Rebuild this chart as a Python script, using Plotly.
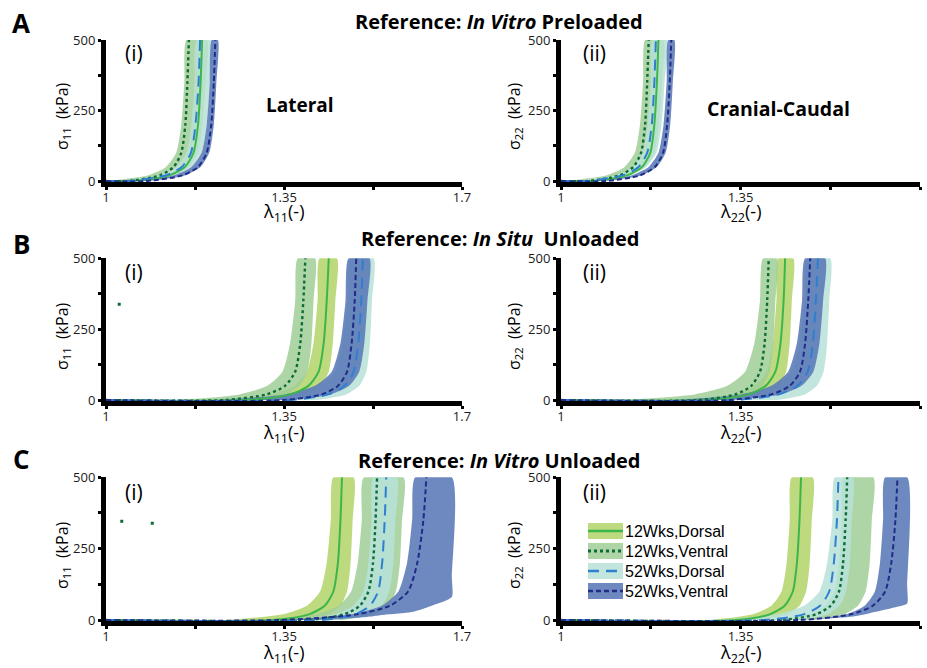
import plotly.graph_objects as go

W, H = 927, 668

# ---------------- data (lambda values read at these stress levels, kPa) ----------------
stress_levels = [0, 20, 50, 100, 200, 350, 500]

series_names = ["12Wks,Dorsal", "12Wks,Ventral", "52Wks,Dorsal", "52Wks,Ventral"]

# Panel A(i)  In Vitro Preloaded, lateral
a1_12d_mid = [1.053, 1.124, 1.155, 1.172, 1.181, 1.186, 1.189]
a1_12d_lo = [1.042, 1.113, 1.144, 1.161, 1.170, 1.175, 1.178]
a1_12d_hi = [1.055, 1.131, 1.163, 1.181, 1.190, 1.196, 1.199]
a1_12v_mid = [1.043, 1.106, 1.133, 1.148, 1.156, 1.160, 1.163]
a1_12v_lo = [1.000, 1.082, 1.118, 1.138, 1.148, 1.154, 1.158]
a1_12v_hi = [1.024, 1.108, 1.144, 1.164, 1.174, 1.180, 1.184]
a1_52d_mid = [1.041, 1.117, 1.149, 1.167, 1.176, 1.182, 1.185]
a1_52d_lo = [1.018, 1.102, 1.138, 1.158, 1.168, 1.174, 1.178]
a1_52d_hi = [1.048, 1.132, 1.168, 1.188, 1.198, 1.204, 1.208]
a1_52v_mid = [1.079, 1.150, 1.181, 1.198, 1.207, 1.212, 1.215]
a1_52v_lo = [1.048, 1.132, 1.168, 1.188, 1.198, 1.204, 1.208]
a1_52v_hi = [1.084, 1.155, 1.186, 1.203, 1.212, 1.217, 1.220]

# Panel A(ii)  In Vitro Preloaded, cranial-caudal
a2_12d_mid = [1.062, 1.129, 1.158, 1.174, 1.182, 1.187, 1.190]
a2_12d_lo = [1.044, 1.115, 1.146, 1.163, 1.172, 1.177, 1.180]
a2_12d_hi = [1.056, 1.132, 1.164, 1.182, 1.191, 1.197, 1.200]
a2_12v_mid = [1.051, 1.114, 1.141, 1.156, 1.164, 1.168, 1.171]
a2_12v_lo = [1.004, 1.088, 1.124, 1.144, 1.154, 1.160, 1.164]
a2_12v_hi = [1.024, 1.108, 1.144, 1.164, 1.174, 1.180, 1.184]
a2_52d_mid = [1.049, 1.120, 1.151, 1.168, 1.177, 1.182, 1.185]
a2_52d_lo = [1.026, 1.106, 1.140, 1.159, 1.169, 1.175, 1.178]
a2_52d_hi = [1.046, 1.130, 1.166, 1.186, 1.196, 1.202, 1.206]
a2_52v_mid = [1.087, 1.154, 1.183, 1.199, 1.207, 1.212, 1.215]
a2_52v_lo = [1.057, 1.137, 1.171, 1.190, 1.200, 1.206, 1.209]
a2_52v_hi = [1.085, 1.156, 1.187, 1.204, 1.213, 1.218, 1.221]

# Panel B(i)  In Situ Unloaded, lateral
b1_12d_mid = [1.278, 1.362, 1.398, 1.418, 1.428, 1.434, 1.438]
b1_12d_lo = [1.220, 1.325, 1.370, 1.395, 1.408, 1.416, 1.420]
b1_12d_hi = [1.326, 1.393, 1.422, 1.438, 1.446, 1.451, 1.454]
b1_12v_mid = [1.232, 1.316, 1.352, 1.372, 1.382, 1.388, 1.392]
b1_12v_lo = [1.137, 1.263, 1.317, 1.347, 1.362, 1.372, 1.377]
b1_12v_hi = [1.291, 1.354, 1.381, 1.396, 1.404, 1.408, 1.411]
b1_52d_mid = [1.361, 1.437, 1.469, 1.487, 1.496, 1.502, 1.505]
b1_52d_lo = [1.240, 1.366, 1.420, 1.450, 1.465, 1.475, 1.480]
b1_52d_hi = [1.414, 1.473, 1.498, 1.512, 1.519, 1.523, 1.526]
b1_52v_mid = [1.348, 1.424, 1.456, 1.474, 1.483, 1.489, 1.492]
b1_52v_lo = [1.213, 1.352, 1.411, 1.444, 1.461, 1.471, 1.477]
b1_52v_hi = [1.358, 1.442, 1.478, 1.498, 1.508, 1.514, 1.518]

# Panel B(ii)  In Situ Unloaded, cranial-caudal
b2_12d_mid = [1.285, 1.365, 1.399, 1.418, 1.428, 1.434, 1.437]
b2_12d_lo = [1.240, 1.337, 1.378, 1.401, 1.413, 1.420, 1.424]
b2_12d_hi = [1.341, 1.400, 1.425, 1.439, 1.446, 1.450, 1.453]
b2_12v_mid = [1.269, 1.340, 1.371, 1.388, 1.397, 1.402, 1.405]
b2_12v_lo = [1.114, 1.261, 1.324, 1.359, 1.377, 1.388, 1.394]
b2_12v_hi = [1.309, 1.368, 1.393, 1.407, 1.414, 1.418, 1.421]
b2_52d_mid = [1.341, 1.425, 1.461, 1.481, 1.491, 1.497, 1.501]
b2_52d_lo = [1.240, 1.366, 1.420, 1.450, 1.465, 1.475, 1.480]
b2_52d_hi = [1.421, 1.476, 1.499, 1.512, 1.519, 1.523, 1.525]
b2_52v_mid = [1.326, 1.410, 1.446, 1.466, 1.476, 1.482, 1.486]
b2_52v_lo = [1.212, 1.351, 1.410, 1.443, 1.460, 1.470, 1.476]
b2_52v_hi = [1.331, 1.428, 1.469, 1.492, 1.504, 1.511, 1.515]

# Panel C(i)  In Vitro Unloaded, lateral
c1_12d_mid = [1.328, 1.399, 1.430, 1.447, 1.456, 1.461, 1.464]
c1_12d_lo = [1.239, 1.348, 1.395, 1.421, 1.434, 1.442, 1.447]
c1_12d_hi = [1.383, 1.438, 1.461, 1.474, 1.481, 1.485, 1.487]
c1_12v_mid = [1.397, 1.468, 1.499, 1.516, 1.525, 1.530, 1.533]
c1_12v_lo = [1.307, 1.412, 1.457, 1.482, 1.495, 1.503, 1.507]
c1_12v_hi = [1.465, 1.528, 1.555, 1.570, 1.578, 1.582, 1.585]
c1_52d_mid = [1.423, 1.490, 1.519, 1.535, 1.543, 1.548, 1.551]
c1_52d_lo = [1.366, 1.450, 1.486, 1.506, 1.516, 1.522, 1.526]
c1_52d_hi = [1.452, 1.515, 1.542, 1.557, 1.565, 1.569, 1.572]
c1_52v_mid = [1.342, 1.493, 1.558, 1.594, 1.612, 1.624, 1.630]
c1_52v_lo = [1.344, 1.483, 1.542, 1.575, 1.592, 1.602, 1.608]
c1_52v_hi = [1.380, 1.448, 1.513, 1.539, 1.604, 1.643, 1.680, 1.680, 1.680]
c1_52v_hi_stress = [0, 3, 11, 17, 29, 52, 81, 150, 500]

# Panel C(ii)  In Vitro Unloaded, cranial-caudal
c2_12d_mid = [1.340, 1.407, 1.436, 1.452, 1.460, 1.465, 1.468]
c2_12d_lo = [1.290, 1.374, 1.410, 1.430, 1.440, 1.446, 1.450]
c2_12d_hi = [1.387, 1.442, 1.465, 1.478, 1.485, 1.489, 1.491]
c2_12v_mid = [1.430, 1.497, 1.526, 1.542, 1.550, 1.555, 1.558]
c2_12v_lo = [1.407, 1.483, 1.515, 1.533, 1.542, 1.548, 1.551]
c2_12v_hi = [1.489, 1.552, 1.579, 1.594, 1.602, 1.606, 1.609]
c2_52d_mid = [1.397, 1.473, 1.505, 1.523, 1.532, 1.538, 1.541]
c2_52d_lo = [1.294, 1.420, 1.474, 1.504, 1.519, 1.529, 1.534]
c2_52d_hi = [1.465, 1.520, 1.543, 1.556, 1.563, 1.567, 1.569]
c2_52v_mid = [1.464, 1.565, 1.608, 1.632, 1.644, 1.652, 1.656]
c2_52v_lo = [1.472, 1.556, 1.592, 1.612, 1.622, 1.628, 1.632]
c2_52v_hi = [1.430, 1.505, 1.570, 1.629, 1.660, 1.675, 1.675, 1.675]
c2_52v_hi_stress = [0, 4, 12, 35, 48, 58, 120, 500]

# stray marks visible in the original figure
stray_b1_lam = [1.026]
stray_b1_sig = [338]
stray_c1_lam = [1.031, 1.091]
stray_c1_sig = [346, 339]

x_tick_vals = [1, 1.175, 1.35, 1.525, 1.7]
x_tick_text = ["1", "", "1.35", "", "1.7"]
y_tick_vals = [0, 125, 250, 375, 500]
y_tick_text = ["0", "", "250", "", "500"]

# ---------------- styles ----------------
line_colors = ["#3cb64a", "#0d6b36", "#2f7fd0", "#1f2c88"]
band_colors = ["rgba(178,212,104,0.85)", "rgba(160,206,150,0.85)",
               "rgba(183,226,216,0.85)", "rgba(90,121,182,0.88)"]
dashes = ["solid", "dot", "11px,7px", "5px,3px"]
line_widths = [2, 2.4, 2, 2]

panels = [
    ("x", "y", [(a1_12d_mid, a1_12d_lo, a1_12d_hi, stress_levels),
                (a1_12v_mid, a1_12v_lo, a1_12v_hi, stress_levels),
                (a1_52d_mid, a1_52d_lo, a1_52d_hi, stress_levels),
                (a1_52v_mid, a1_52v_lo, a1_52v_hi, stress_levels)], None),
    ("x2", "y2", [(a2_12d_mid, a2_12d_lo, a2_12d_hi, stress_levels),
                  (a2_12v_mid, a2_12v_lo, a2_12v_hi, stress_levels),
                  (a2_52d_mid, a2_52d_lo, a2_52d_hi, stress_levels),
                  (a2_52v_mid, a2_52v_lo, a2_52v_hi, stress_levels)], None),
    ("x3", "y3", [(b1_12d_mid, b1_12d_lo, b1_12d_hi, stress_levels),
                  (b1_12v_mid, b1_12v_lo, b1_12v_hi, stress_levels),
                  (b1_52d_mid, b1_52d_lo, b1_52d_hi, stress_levels),
                  (b1_52v_mid, b1_52v_lo, b1_52v_hi, stress_levels)],
     (stray_b1_lam, stray_b1_sig)),
    ("x4", "y4", [(b2_12d_mid, b2_12d_lo, b2_12d_hi, stress_levels),
                  (b2_12v_mid, b2_12v_lo, b2_12v_hi, stress_levels),
                  (b2_52d_mid, b2_52d_lo, b2_52d_hi, stress_levels),
                  (b2_52v_mid, b2_52v_lo, b2_52v_hi, stress_levels)], None),
    ("x5", "y5", [(c1_12d_mid, c1_12d_lo, c1_12d_hi, stress_levels),
                  (c1_12v_mid, c1_12v_lo, c1_12v_hi, stress_levels),
                  (c1_52d_mid, c1_52d_lo, c1_52d_hi, stress_levels),
                  (c1_52v_mid, c1_52v_lo, c1_52v_hi, c1_52v_hi_stress)],
     (stray_c1_lam, stray_c1_sig)),
    ("x6", "y6", [(c2_12d_mid, c2_12d_lo, c2_12d_hi, stress_levels),
                  (c2_12v_mid, c2_12v_lo, c2_12v_hi, stress_levels),
                  (c2_52d_mid, c2_52d_lo, c2_52d_hi, stress_levels),
                  (c2_52v_mid, c2_52v_lo, c2_52v_hi, c2_52v_hi_stress)], None),
]

fig = go.Figure()
for xa, ya, series, stray in panels:
    # bands first
    for k, (mid, lo, hi, hi_s) in enumerate(series):
        xs = list(lo) + list(hi)[::-1]
        ys = list(stress_levels) + list(hi_s)[::-1]
        fig.add_trace(go.Scatter(
            x=xs, y=ys, xaxis=xa, yaxis=ya, mode="lines", fill="toself",
            fillcolor=band_colors[k], line=dict(width=0, shape="spline", smoothing=0.6),
            hoverinfo="skip", showlegend=False))
    # mean curves
    for k, (mid, lo, hi, hi_s) in enumerate(series):
        fig.add_trace(go.Scatter(
            x=[1.0] + list(mid), y=[0] + list(stress_levels), xaxis=xa, yaxis=ya,
            mode="lines", name=series_names[k],
            line=dict(color=line_colors[k], width=line_widths[k], dash=dashes[k],
                      shape="spline", smoothing=0.7),
            showlegend=False))
    if stray is not None:
        fig.add_trace(go.Scatter(x=stray[0], y=stray[1], xaxis=xa, yaxis=ya, mode="markers",
                                 marker=dict(symbol="square", size=3, color="#0d6b36"),
                                 showlegend=False, hoverinfo="skip"))

def px_x(p):
    return p / W

def px_y(p):
    return 1 - p / H

x_domains = [[106 / W, 462 / W], [561 / W, 920 / W]]
y_domains = [[1 - 181.9 / H, 1 - 40 / H], [1 - 400.9 / H, 1 - 258.3 / H], [1 - 620.9 / H, 1 - 477.3 / H]]

tick_font = dict(family="Open Sans", size=13, color="#1a1a1a")
layout = dict(template="none", width=W, height=H, autosize=False,
              margin=dict(l=0, r=0, t=0, b=0, pad=0, autoexpand=False),
              paper_bgcolor="white", plot_bgcolor="white", showlegend=False)
for i in range(6):
    r, c = divmod(i, 2)
    sx = "" if i == 0 else str(i + 1)
    layout["xaxis" + sx] = dict(
        domain=x_domains[c], anchor="y" + sx, range=[1, 1.7], automargin=False,
        tickmode="array", tickvals=x_tick_vals, ticktext=x_tick_text,
        ticks="outside", ticklen=3, tickwidth=3, tickcolor="black", ticklabelstandoff=-4,
        showline=True, linewidth=5, linecolor="black", showgrid=False, zeroline=False,
        tickfont=tick_font, layer="below traces", fixedrange=True)
    layout["yaxis" + sx] = dict(
        domain=y_domains[r], anchor="x" + sx, range=[-3, 500], automargin=False,
        tickmode="array", tickvals=y_tick_vals, ticktext=y_tick_text,
        ticks="outside", ticklen=3, tickwidth=3, tickcolor="black",
        showline=True, linewidth=5, linecolor="black", showgrid=False, zeroline=False,
        tickfont=tick_font, layer="below traces", fixedrange=True)

annotations = []

def text(x, y, s, size, family="Open Sans", angle=0, xanchor="center", color="black"):
    annotations.append(dict(x=px_x(x), y=px_y(y), xref="paper", yref="paper", text=s,
                            showarrow=False, textangle=angle, xanchor=xanchor, yanchor="middle",
                            font=dict(family=family, size=size, color=color)))

# panel letters and titles
for lab, yy in (("A", 23), ("B", 244), ("C", 459)):
    text(21, yy, "<b>" + lab + "</b>", 26)
text(499, 22, "<b>Reference: <i>In Vitro</i> Preloaded</b>", 20)
text(500, 239, "<b>Reference: <i>In Situ</i>  Unloaded</b>", 20)
text(499, 460, "<b>Reference: <i>In Vitro</i> Unloaded</b>", 20)
# roman numerals
for yy in (53, 272, 492):
    text(134, yy, "(i)", 21)
    text(594, yy, "(ii)", 21)
text(300, 105, "<b>Lateral</b>", 19)
text(778, 108, "<b>Cranial-Caudal</b>", 19.5)
# axis titles
for yy in (116, 336, 555):
    text(62, yy, "σ<sub>11</sub>  (kPa)", 16, angle=-90)
    text(514, yy, "σ<sub>22</sub>  (kPa)", 16, angle=-90)
for yy in (213, 433, 653):
    text(283, yy, "λ<sub>11</sub>(-)", 18)
    text(740, yy, "λ<sub>22</sub>(-)", 18)

# legend (drawn in panel C(ii))
shapes = []
legend_rows = [531, 551, 571, 591]
for k, yy in enumerate(legend_rows):
    shapes.append(dict(type="rect", xref="paper", yref="paper",
                       x0=px_x(588), x1=px_x(623), y0=px_y(yy + 8), y1=px_y(yy - 8),
                       fillcolor=band_colors[k], line=dict(width=0), layer="above"))
    shapes.append(dict(type="line", xref="paper", yref="paper",
                       x0=px_x(588), x1=px_x(623), y0=px_y(yy), y1=px_y(yy),
                       line=dict(color=line_colors[k], width=line_widths[k] + 0.5, dash=dashes[k]),
                       layer="above"))
    text(623, yy, series_names[k], 16, family="Liberation Sans", xanchor="left")

layout["annotations"] = annotations
layout["shapes"] = shapes
fig.update_layout(**layout)
fig.write_html("out.html", config={"displayModeBar": False},
               post_script="document.body.style.margin='0px';document.body.style.overflow='hidden';")
